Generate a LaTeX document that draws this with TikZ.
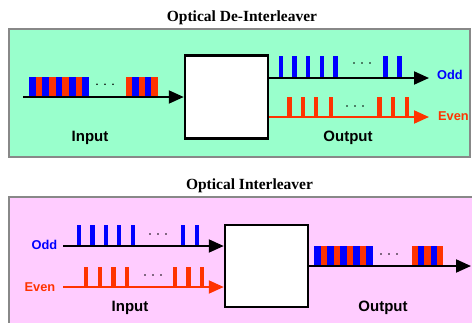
\documentclass[tikz,border=0pt]{standalone}
\usepackage{fontspec}
\setmainfont{Liberation Serif}
\setsansfont{Liberation Sans}
\usetikzlibrary{arrows.meta}
\definecolor{bgg}{HTML}{99FFCC}
\definecolor{bgp}{HTML}{FFCCFF}
\definecolor{pb}{HTML}{0000FF}
\definecolor{pr}{HTML}{FF3300}
\definecolor{frm}{HTML}{888888}
\begin{document}
\begin{tikzpicture}[x=1pt,y=-1pt,
  panel/.style={draw=frm,line width=1.2pt},
  blk/.style={draw=black,line width=2.5pt,fill=white,minimum width=83pt,minimum height=83pt,inner sep=0pt},
  sig/.style={line width=2pt,-{Triangle[length=15pt,width=13pt]}},
  lab/.style={font=\sffamily\bfseries\fontsize{15}{15}\selectfont,anchor=base,inner sep=0pt},
  sublab/.style={font=\sffamily\bfseries\fontsize{12.8}{12.8}\selectfont,anchor=base,inner sep=0pt},
  ttl/.style={font=\bfseries\fontsize{15.5}{15.5}\selectfont,anchor=base,inner sep=0pt},
  dot/.style={fill=black},
]
\useasboundingbox (0,0) rectangle (472,322);
\clip (0,0) rectangle (472,322);
\fill[white] (0,0) rectangle (472,322);

% ---------------- Top: De-Interleaver ----------------
\node[ttl] (t1) at (242,21) {Optical De-Interleaver};
\draw[panel,fill=bgg] (9,29) rectangle (470,157);
\node[blk] (dmx) at (226.5,97) {};

% input interleaved pulses
\foreach \i in {0,...,8}{
  \pgfmathsetmacro{\xa}{29+6.67*\i}
  \ifodd\i \fill[pr] (\xa,77) rectangle ++(6.67,20); \else \fill[pb] (\xa,77) rectangle ++(6.67,20); \fi
}
\foreach \i in {0,...,4}{
  \pgfmathsetmacro{\xa}{126+6.3*\i}
  \ifodd\i \fill[pb] (\xa,77) rectangle ++(6.3,20); \else \fill[pr] (\xa,77) rectangle ++(6.3,20); \fi
}
\foreach \d in {97,105,113} \fill[dot] (\d,84.3) circle (0.9);
\coordinate (inS) at (23,97);
\draw[sig] (inS) -- (dmx.west);
\node[lab] (inL) at (90,141) {Input};

% odd output
\coordinate (oddE) at (429,78);
\foreach \x in {281,294.3,307.7,322,335.3,385.3,399.3} \fill[pb] (\x-2.2,56) rectangle (\x+2.2,78);
\foreach \d in {354,362,370} \fill[dot] (\d,63) circle (0.9);
\draw[sig] (dmx.east|-oddE) -- (oddE);
\node[sublab,text=pb] (oddL) at (450,79.5) {Odd};

% even output
\coordinate (evenE) at (429,117);
\foreach \x in {289.3,302.7,316,331,379.3,392.7,406.7} \fill[pr] (\x-2.2,97) rectangle (\x+2.2,117);
\foreach \d in {347,355,363} \fill[dot] (\d,106) circle (0.9);
\draw[sig,pr] (dmx.east|-evenE) -- (evenE);
\node[sublab,text=pr] (evenL) at (453.5,120) {Even};
\node[lab] (outL) at (348,141) {Output};

% ---------------- Bottom: Interleaver ----------------
\node[ttl] (t2) at (249.5,189) {Optical Interleaver};
\draw[panel,fill=bgp] (9,197) rectangle (490,340);
\node[blk,minimum height=82pt] (mux) at (266.5,266) {};

% odd input
\coordinate (oddS) at (63,246);
\foreach \x in {79,92.3,105.7,119,132.7,183,197} \fill[pb] (\x-2.2,225) rectangle (\x+2.2,246);
\foreach \d in {150,158,166} \fill[dot] (\d,234) circle (0.9);
\draw[sig] (oddS) -- (mux.west|-oddS);
\node[sublab,text=pb] (oddL2) at (44.5,249.5) {Odd};

% even input
\coordinate (evenS) at (63,287);
\foreach \x in {86,99.7,113.3,126.7,175,188.3,201.7} \fill[pr] (\x-2.2,267) rectangle (\x+2.2,287);
\foreach \d in {145,153,161} \fill[dot] (\d,275) circle (0.9);
\draw[sig,pr] (evenS) -- (mux.west|-evenS);
\node[sublab,text=pr] (evenL2) at (40,291) {Even};
\node[lab] (inL2) at (130,311) {Input};

% interleaved output
\foreach \i in {0,...,8}{
  \pgfmathsetmacro{\xa}{314.3+6.5*\i}
  \ifodd\i \fill[pr] (\xa,246) rectangle ++(6.5,20); \else \fill[pb] (\xa,246) rectangle ++(6.5,20); \fi
}
\foreach \i in {0,...,4}{
  \pgfmathsetmacro{\xa}{411.7+6.3*\i}
  \ifodd\i \fill[pb] (\xa,246) rectangle ++(6.3,20); \else \fill[pr] (\xa,246) rectangle ++(6.3,20); \fi
}
\foreach \d in {381,389,397} \fill[dot] (\d,254) circle (0.9);
\coordinate (outE) at (471,266);
\draw[sig] (mux.east) -- (outE);
\node[lab] (outL2) at (383,311) {Output};
\end{tikzpicture}
\end{document}
